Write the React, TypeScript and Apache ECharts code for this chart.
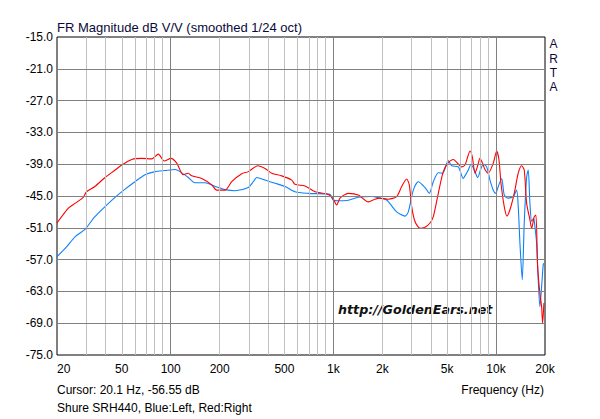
import { useEffect, useRef } from "react";
import * as echarts from "echarts";

// ---- Data ----
const redFreq = [
  20, 23.5, 25.8, 29.0, 30.4, 34.2, 39.5, 45.5, 50.0, 57.6, 66.3, 76.4, 83.9, 91.3, 100.4, 108.9,
  119.5, 128.3, 134.6, 155.1, 178.7, 191.8, 215.7, 237.2, 273.2, 300, 342.8, 380, 417.8, 481.3,
  554.6, 581, 669, 771, 931, 999, 1048, 1099, 1235, 1423, 1639, 1803, 1934, 2176, 2451, 2630,
  2823, 2929, 3030, 3176, 3409, 3660, 3927, 4115, 4416, 4739, 5086, 5460, 6150, 6443, 6694,
  6916, 7146, 7424, 7710, 7966, 8230, 8551, 8960, 9617, 10093, 10427, 10727, 11233, 11670,
  12176, 12940, 13694, 14369, 14908, 15422, 16160, 16555, 17176, 17587, 18017, 18609, 19063,
  19333, 19694,
];
const redDb = [
  -50.1, -47.3, -46.4, -45.25, -44.2, -43.2, -41.5, -40.1, -39.15, -38.1, -37.9, -38.0, -37.1,
  -38.4, -37.9, -38.8, -41.0, -40.7, -41.2, -41.7, -42.9, -43.9, -43.9, -42.3, -40.8, -40.4,
  -39.3, -39.8, -40.7, -41.2, -42.0, -42.8, -43.1, -44.2, -44.7, -45.6, -46.7, -45.4, -44.5,
  -44.8, -46.1, -45.6, -45.4, -45.6, -45.1, -43.2, -41.8, -42.9, -47.0, -49.8, -51.1, -50.9,
  -50.1, -48.9, -44.5, -40.4, -38.7, -38.1, -39.5, -39.15, -37.6, -36.5, -37.6, -40.7, -39.3,
  -37.9, -38.7, -40.0, -40.7, -38.8, -36.5, -38.2, -42.6, -47.0, -48.8, -47.6, -44.5, -40.7,
  -39.3, -40.1, -46.4, -49.5, -51.1, -48.9, -48.6, -58.3, -63.4, -65.9, -69.0, -65.2,
];

const blueFreq = [
  20, 22.9, 25.8, 29.7, 34.2, 39.5, 45.5, 52.4, 60.3, 69.5, 80.1, 92.2, 106.3, 114.1, 128.3,
  141.1, 162.5, 187.2, 215.7, 248.5, 300, 322, 338, 380, 437.7, 504.3, 581, 701, 953, 999, 1072,
  1235, 1423, 1721, 1934, 2127, 2451, 2756, 2888, 3100, 3328, 3660, 3888, 4115, 4416, 4699,
  5086, 5337, 5861, 6290, 6443, 6751, 7015, 7351, 7710, 8080, 8347, 8759, 9178, 9617, 9950,
  10325, 10834, 11233, 11786, 12757, 13385, 13694, 14027, 14492, 14908, 15422, 15777, 16160,
  16555, 17030, 17345, 17762, 18171, 18609, 19063, 19499, 19694,
];
const blueDb = [
  -56.45, -54.6, -52.7, -51.3, -48.9, -47.0, -45.25, -43.7, -42.3, -41.0, -40.4, -40.2, -40.0,
  -40.4, -41.5, -42.5, -42.5, -43.2, -43.8, -44.0, -43.4, -42.3, -41.5, -42.0, -42.6, -43.2,
  -44.2, -44.5, -44.7, -45.8, -45.9, -45.8, -45.25, -45.1, -45.4, -45.75, -48.0, -48.8, -48.0,
  -43.9, -42.3, -43.4, -44.5, -42.3, -40.6, -40.7, -38.3, -39.3, -39.5, -41.7, -41.2, -40.1,
  -39.0, -40.1, -41.5, -39.8, -39.0, -39.5, -42.0, -43.9, -44.5, -43.2, -41.7, -44.8, -45.4,
  -45.1, -43.9, -47.0, -53.9, -60.8, -50.1, -41.4, -40.1, -46.4, -49.8, -49.2, -50.8, -53.9,
  -60.8, -65.9, -62.1, -58.0, -57.7,
];

// Axis tick labels and grid lines
const xTickLabels = [20, 50, 100, 200, 500, 1000, 2000, 5000, 10000, 20000];
const yTickLabels = [-75, -69, -63, -57, -51, -45, -39, -33, -27, -21, -15];
const yGridLines = [-69, -63, -57, -51, -45, -39, -33, -27, -21];
const xDecadeLines = [100, 1000, 10000];
const xMinorLines = [
  30, 40, 50, 60, 70, 80, 90, 200, 300, 400, 500, 600, 700, 800, 900, 2000, 3000, 4000, 5000,
  6000, 7000, 8000, 9000,
];

const X_MIN = 20;
const X_MAX = 20000;
const Y_MIN = -75;
const Y_MAX = -15;

const FONT = '"Liberation Sans", Arial, sans-serif';

function fmtFreq(v: number): string {
  const f = Math.round(Math.pow(10, v));
  return f >= 1000 ? `${Math.round(f / 1000)}k` : `${f}`;
}

export default function App() {
  const ref = useRef<HTMLDivElement>(null);

  useEffect(() => {
    document.body.style.margin = "0";
    if (!ref.current) return;
    const chart = echarts.init(ref.current, undefined, { renderer: "svg" });

    const gridLineSeries = (name: string, vals: number[], axis: "x" | "y", color: string) => ({
      name,
      type: "line",
      data: [],
      silent: true,
      z: 1,
      markLine: {
        silent: true,
        symbol: ["none", "none"],
        animation: false,
        label: { show: false },
        emphasis: { disabled: true },
        lineStyle: { color, width: 1, type: "solid" },
        data: vals.map((v) => (axis === "x" ? { xAxis: Math.log10(v) } : { yAxis: v })),
      },
    });

    const textStyle = (text: string, x: number, y: number, extra: any = {}) => ({
      type: "text",
      x,
      y,
      silent: true,
      style: {
        text,
        font: `12px ${FONT}`,
        fill: "#000",
        align: "left",
        verticalAlign: "middle",
        textAlign: "left",
        textVerticalAlign: "middle",
        ...extra,
      },
    });

    chart.setOption({
      animation: false,
      backgroundColor: "#ffffff",
      grid: {
        left: 57,
        top: 37,
        width: 488,
        height: 318,
        show: true,
        borderColor: "#000",
        borderWidth: 1,
        backgroundColor: "transparent",
        containLabel: false,
      },
      xAxis: {
        type: "value",
        min: Math.log10(X_MIN),
        max: Math.log10(X_MAX),
        axisLine: { show: false },
        axisTick: { show: false },
        splitLine: { show: false },
        axisLabel: {
          customValues: xTickLabels.map((v) => Math.log10(v)),
          formatter: (v: number) => fmtFreq(v),
          fontSize: 12,
          fontFamily: FONT,
          color: "#000",
          margin: 8,
          showMinLabel: true,
          showMaxLabel: true,
          alignMinLabel: "left",
        },
      },
      yAxis: {
        type: "value",
        min: Y_MIN,
        max: Y_MAX,
        axisLine: { show: false },
        axisTick: { show: false },
        splitLine: { show: false },
        axisLabel: {
          customValues: yTickLabels,
          formatter: (v: number) => v.toFixed(1),
          fontSize: 12,
          fontFamily: FONT,
          color: "#000",
          margin: 4,
          showMinLabel: true,
          showMaxLabel: true,
        },
      },
      graphic: [
        textStyle("FR Magnitude dB V/V (smoothed 1/24 oct)", 57, 27, {
          font: `13px ${FONT}`,
          fill: "#0a0a3a",
        }),
        {
          type: "text",
          x: 553.5,
          y: 37,
          silent: true,
          style: {
            text: "A\nR\nT\nA",
            font: `12px ${FONT}`,
            fill: "#0a0a3a",
            lineHeight: 14.4,
            align: "center",
            verticalAlign: "top",
            textAlign: "center",
            textVerticalAlign: "top",
          },
        },
        textStyle("http://GoldenEars.net", 338, 309, {
          font: `italic bold 12.7px "DejaVu Sans", Verdana, sans-serif`,
          fill: "#111",
        }),
        textStyle("Cursor: 20.1 Hz, -56.55 dB", 57, 390),
        textStyle("Shure SRH440, Blue:Left, Red:Right", 57, 408),
        textStyle("Frequency (Hz)", 544, 390, { align: "right", textAlign: "right" }),
      ],
      series: [
        gridLineSeries("minorX", xMinorLines, "x", "#c0c0c0"),
        gridLineSeries("majorX", xDecadeLines, "x", "#808080"),
        gridLineSeries("majorY", yGridLines, "y", "#808080"),
        {
          name: "Left",
          type: "line",
          z: 3,
          showSymbol: false,
          symbol: "none",
          smooth: 0.25,
          lineStyle: { color: "#0a82ff", width: 1.1 },
          emphasis: { disabled: true },
          data: blueFreq.map((f, i) => [Math.log10(f), blueDb[i]]),
        },
        {
          name: "Right",
          type: "line",
          z: 4,
          showSymbol: false,
          symbol: "none",
          smooth: 0.25,
          lineStyle: { color: "#ff0000", width: 1.1 },
          emphasis: { disabled: true },
          data: redFreq.map((f, i) => [Math.log10(f), redDb[i]]),
        },
      ],
    });

    return () => chart.dispose();
  }, []);

  return (
    <div
      ref={ref}
      style={{ position: "absolute", left: 0, top: 0, width: 600, height: 419, background: "#fff" }}
    />
  );
}
